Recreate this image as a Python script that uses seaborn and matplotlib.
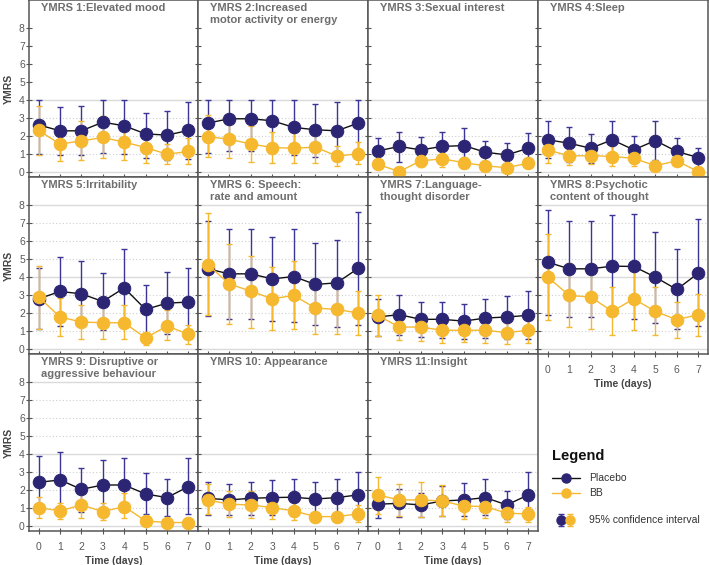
import numpy as np
import pandas as pd
import matplotlib
matplotlib.use("Agg")
import matplotlib.pyplot as plt
import seaborn as sns

days = [0, 1, 2, 3, 4, 5, 6, 7]

titles = [
    "YMRS 1:Elevated mood",
    "YMRS 2:Increased\nmotor activity or energy",
    "YMRS 3:Sexual interest",
    "YMRS 4:Sleep",
    "YMRS 5:Irritability",
    "YMRS 6: Speech:\nrate and amount",
    "YMRS 7:Language-\nthought disorder",
    "YMRS 8:Psychotic\ncontent of thought",
    "YMRS 9: Disruptive or\naggressive behaviour",
    "YMRS 10: Appearance",
    "YMRS 11:Insight",
]

placebo_mean = [
    [2.6, 2.27, 2.27, 2.75, 2.55, 2.1, 2.03, 2.29],
    [2.7, 2.94, 2.94, 2.83, 2.46, 2.33, 2.27, 2.7],
    [1.15, 1.4, 1.21, 1.4, 1.45, 1.08, 0.93, 1.3],
    [1.77, 1.58, 1.3, 1.77, 1.21, 1.73, 1.12, 0.78],
    [2.77, 3.18, 3.05, 2.62, 3.38, 2.18, 2.53, 2.59],
    [4.44, 4.16, 4.16, 3.88, 4.01, 3.57, 3.66, 4.47],
    [1.76, 1.89, 1.63, 1.63, 1.53, 1.7, 1.76, 1.85],
    [4.81, 4.44, 4.44, 4.59, 4.57, 3.98, 3.29, 4.2],
    [2.41, 2.54, 2.02, 2.26, 2.26, 1.76, 1.56, 2.17],
    [1.52, 1.43, 1.52, 1.56, 1.58, 1.48, 1.56, 1.71],
    [1.19, 1.24, 1.15, 1.37, 1.43, 1.56, 1.15, 1.71],
]
placebo_lo = [
    [1.0, 0.93, 0.93, 1.06, 1.0, 0.78, 0.65, 0.69],
    [1.06, 1.17, 1.17, 1.08, 0.93, 0.84, 0.69, 1.02],
    [0.47, 0.56, 0.56, 0.47, 0.47, 0.37, 0.28, 0.37],
    [0.74, 0.56, 0.5, 0.65, 0.47, 0.65, 0.37, 0.24],
    [1.07, 1.26, 1.26, 1.02, 1.26, 0.55, 0.83, 0.8],
    [1.79, 1.63, 1.63, 1.52, 1.48, 1.29, 1.2, 1.29],
    [0.7, 0.74, 0.65, 0.61, 0.55, 0.61, 0.55, 0.52],
    [1.89, 1.76, 1.76, 1.81, 1.66, 1.44, 1.07, 1.24],
    [1.02, 1.09, 0.78, 0.72, 0.83, 0.65, 0.56, 0.65],
    [0.59, 0.59, 0.59, 0.59, 0.56, 0.56, 0.5, 0.5],
    [0.45, 0.5, 0.46, 0.56, 0.54, 0.59, 0.35, 0.5],
]
placebo_hi = [
    [4.0, 3.6, 3.65, 4.0, 4.0, 3.26, 3.39, 3.87],
    [4.0, 4.0, 4.0, 4.0, 4.0, 3.78, 3.85, 4.0],
    [1.86, 2.2, 1.92, 2.2, 2.42, 1.73, 1.58, 2.14],
    [2.79, 2.51, 2.07, 2.79, 1.99, 2.79, 1.86, 1.3],
    [4.49, 5.08, 4.9, 4.2, 5.55, 3.55, 4.25, 4.49],
    [7.12, 6.65, 6.65, 6.23, 6.65, 5.86, 6.06, 7.63],
    [2.77, 2.96, 2.59, 2.59, 2.5, 2.77, 2.92, 3.18],
    [7.72, 7.12, 7.12, 7.44, 7.5, 6.48, 5.55, 7.22],
    [3.88, 4.12, 3.19, 3.65, 3.75, 2.95, 2.6, 3.75],
    [2.45, 2.32, 2.45, 2.54, 2.6, 2.45, 2.6, 2.97],
    [1.89, 2.02, 1.84, 2.21, 2.36, 2.6, 1.93, 2.97],
]

bb_mean = [
    [2.29, 1.53, 1.71, 1.9, 1.64, 1.34, 0.97, 1.12],
    [1.95, 1.8, 1.54, 1.34, 1.3, 1.36, 0.87, 0.99],
    [0.41, 0.0, 0.6, 0.71, 0.5, 0.32, 0.22, 0.47],
    [1.21, 0.87, 0.89, 0.84, 0.74, 0.33, 0.6, 0.0],
    [2.87, 1.76, 1.48, 1.44, 1.44, 0.59, 1.26, 0.8],
    [4.68, 3.6, 3.2, 2.77, 2.96, 2.26, 2.18, 1.98],
    [1.85, 1.2, 1.2, 1.02, 1.02, 1.02, 0.89, 1.02],
    [3.98, 2.96, 2.87, 2.07, 2.77, 2.07, 1.61, 1.89],
    [1.0, 0.82, 1.15, 0.78, 1.06, 0.26, 0.17, 0.17],
    [1.43, 1.19, 1.15, 1.0, 0.82, 0.5, 0.5, 0.65],
    [1.71, 1.43, 1.43, 1.37, 1.09, 1.06, 0.69, 0.65],
]
bb_lo = [
    [0.93, 0.61, 0.65, 0.74, 0.65, 0.5, 0.41, 0.43],
    [0.84, 0.74, 0.56, 0.5, 0.5, 0.5, 0.33, 0.41],
    [0.3, 0.0, 0.28, 0.28, 0.19, 0.19, 0.22, 0.32],
    [0.47, 0.37, 0.41, 0.32, 0.32, 0.33, 0.33, 0.0],
    [1.11, 0.7, 0.55, 0.55, 0.55, 0.22, 0.46, 0.28],
    [1.85, 1.39, 1.15, 1.02, 1.07, 0.83, 0.8, 0.74],
    [0.7, 0.46, 0.41, 0.33, 0.37, 0.33, 0.28, 0.31],
    [1.57, 1.2, 1.07, 0.74, 1.02, 0.78, 0.59, 0.68],
    [0.41, 0.35, 0.45, 0.32, 0.41, 0.26, 0.17, 0.17],
    [0.65, 0.5, 0.45, 0.37, 0.32, 0.22, 0.22, 0.22],
    [0.65, 0.56, 0.5, 0.54, 0.37, 0.41, 0.22, 0.19],
]
bb_hi = [
    [3.67, 2.42, 2.79, 3.07, 2.64, 2.14, 1.53, 1.86],
    [3.16, 2.85, 2.55, 2.23, 2.18, 2.18, 1.4, 1.64],
    [0.55, 0.0, 0.93, 1.12, 0.84, 0.47, 0.22, 0.65],
    [1.95, 1.4, 1.49, 1.4, 1.17, 0.33, 0.93, 0.0],
    [4.62, 2.83, 2.4, 2.5, 2.4, 0.92, 2.13, 1.29],
    [7.52, 5.82, 5.18, 4.53, 4.9, 3.79, 3.51, 3.23],
    [2.96, 1.85, 1.94, 1.57, 1.66, 1.66, 1.42, 1.61],
    [6.38, 4.75, 4.72, 3.42, 4.53, 3.42, 2.59, 3.05],
    [1.58, 1.28, 1.89, 1.28, 1.8, 0.26, 0.17, 0.17],
    [2.32, 1.95, 1.95, 1.52, 1.34, 0.78, 0.78, 1.15],
    [2.73, 2.3, 2.41, 2.26, 1.76, 1.74, 1.09, 1.06],
]

y_ticks = [0, 1, 2, 3, 4, 5, 6, 7, 8]
groups = ["Placebo", "BB"]

# ---------------- style ----------------
sns.set_theme(style="white")
plt.rcParams["font.family"] = ["Liberation Sans", "DejaVu Sans"]

NAVY = "#2b2574"
NAVY_ERR = "#3b3596"
GOLD = "#f5b82e"
FRAME = "#555555"
TICKC = "#5a5a5a"

W, H = 709, 565
fig = plt.figure(figsize=(W / 100, H / 100), dpi=100)

col_edges = [(29, 198), (198, 368), (368, 538), (538, 708)]
row_edges = [(0, 177), (177, 354), (354, 531)]


def rect(c, r):
    x0, x1 = col_edges[c]
    y0, y1 = row_edges[r]
    return [x0 / W, 1 - y1 / H, (x1 - x0) / W, (y1 - y0) / H]


for i in range(11):
    r, c = divmod(i, 4)
    ax = fig.add_axes(rect(c, r))
    ax.set_xlim(-0.45, 7.45)
    ax.set_ylim(-0.3, 9.55)

    # grid
    top = 8 if max(max(placebo_hi[i]), max(bb_hi[i])) > 4.05 else 4
    for g in range(0, top + 1):
        if g % 4 == 0:
            ax.axhline(g, color="#dadada", lw=1.0, zorder=0)
        else:
            ax.axhline(g, color="#cfcfcf", lw=0.8, ls=(0, (1, 2)), zorder=0)

    df = pd.DataFrame({
        "day": days * 2,
        "score": placebo_mean[i] + bb_mean[i],
        "lo": placebo_lo[i] + bb_lo[i],
        "hi": placebo_hi[i] + bb_hi[i],
        "group": ["Placebo"] * 8 + ["BB"] * 8,
    })

    # placebo
    dp = df[df.group == "Placebo"]
    ax.errorbar(dp.day, dp.score, yerr=[dp.score - dp.lo, dp.hi - dp.score],
                fmt="none", ecolor=NAVY_ERR, elinewidth=1.0, capsize=2.5,
                capthick=1.0, zorder=2)
    sns.lineplot(data=dp, x="day", y="score", ax=ax, color="#111111", lw=1.0,
                 marker="o", markersize=9, markerfacecolor=NAVY,
                 markeredgecolor=NAVY, zorder=3, legend=False)
    # BB
    db = df[df.group == "BB"]
    ax.errorbar(db.day, db.score, yerr=[db.score - db.lo, db.hi - db.score],
                fmt="none", ecolor=GOLD, elinewidth=1.0, capsize=2.5,
                capthick=1.0, zorder=2.5)
    sns.lineplot(data=db, x="day", y="score", ax=ax, color=GOLD, lw=1.0,
                 marker="o", markersize=9, markerfacecolor=GOLD,
                 markeredgecolor=GOLD, zorder=4, legend=False)

    ax.set_xticks(days)
    ax.set_yticks(y_ticks)
    ax.tick_params(direction="inout", length=4, width=0.8, color=FRAME,
                   labelsize=7.5, labelcolor=TICKC)
    ax.tick_params(axis="x", bottom=True, pad=6)
    ax.tick_params(axis="y", left=True, pad=1)
    for s in ax.spines.values():
        s.set_color(FRAME)
        s.set_linewidth(1.1)

    if c == 0:
        ax.set_ylabel("YMRS", fontsize=7.5, fontweight="bold", color="#444444",
                      labelpad=4)
    else:
        ax.set_ylabel("")
        ax.set_yticklabels([])
    if r == 2 or i == 7:
        ax.set_xlabel("Time (days)", fontsize=7.5, fontweight="bold",
                      color="#444444", labelpad=3)
    else:
        ax.set_xlabel("")
        ax.set_xticklabels([])

    ax.text(0.07, 0.982, titles[i], transform=ax.transAxes, ha="left",
            va="top", fontsize=8, fontweight="bold", color="#6e6e6e",
            linespacing=1.2)

# ---------------- legend ----------------
lax = fig.add_axes([538 / W, 1 - 531 / H, 171 / W, 177 / H])
lax.set_xlim(0, 171)
lax.set_ylim(177, 0)
lax.axis("off")
lax.text(14, 102, "Legend", fontsize=10.5, fontweight="bold", color="#111111",
         va="center", ha="left")
lax.plot([14, 42], [124, 124], color="#111111", lw=1.0)
lax.plot([28], [124], "o", color=NAVY, ms=6.5)
lax.text(51, 124, groups[0], fontsize=7.5, color="#333333", va="center")
lax.plot([14, 42], [139, 139], color=GOLD, lw=1.0)
lax.plot([28], [139], "o", color=GOLD, ms=6.5)
lax.text(51, 139, groups[1], fontsize=7.5, color="#333333", va="center")
lax.errorbar([23], [166], yerr=[[6], [6]], fmt="o", color=NAVY, ecolor=NAVY_ERR,
             ms=6.5, capsize=2.5, elinewidth=1.0)
lax.errorbar([32], [166], yerr=[[6], [6]], fmt="o", color=GOLD, ecolor=GOLD,
             ms=6.5, capsize=2.5, elinewidth=1.0)
lax.text(51, 166, "95% confidence interval", fontsize=7.5, color="#333333",
         va="center")

fig.savefig("out.png", dpi=100)
